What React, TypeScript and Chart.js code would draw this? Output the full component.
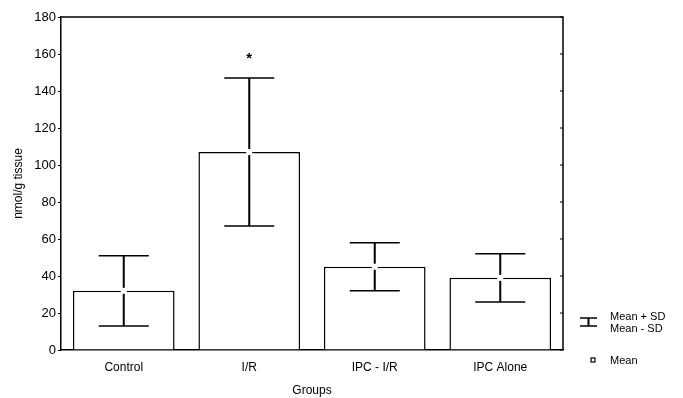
import React, { useEffect, useRef } from "react";
import { Chart, registerables } from "chart.js";

Chart.register(...registerables);

const categories = ["Control", "I/R", "IPC - I/R", "IPC Alone"];
const means = [32, 107, 45, 39];
const sds = [19, 40, 13, 13];
const significance = ["", "*", "", ""];
const starValues = [0, 159, 0, 0];
const yTicks = [0, 20, 40, 60, 80, 100, 120, 140, 160, 180];

const FONT = "'Liberation Sans', Arial, sans-serif";

const errorBarPlugin = {
  id: "errorBars",
  afterDatasetsDraw(chart: any) {
    const { ctx, scales } = chart;
    const meta = chart.getDatasetMeta(0);
    const y = scales.y;
    ctx.save();
    meta.data.forEach((el: any, i: number) => {
      const x = el.x;
      const yt = y.getPixelForValue(means[i] + sds[i]);
      const yb = y.getPixelForValue(means[i] - sds[i]);
      const ym = y.getPixelForValue(means[i]);
      ctx.strokeStyle = "#000";
      ctx.lineWidth = 2;
      ctx.beginPath();
      ctx.moveTo(x, yt);
      ctx.lineTo(x, yb);
      ctx.stroke();
      ctx.lineWidth = 1.5;
      ctx.beginPath();
      ctx.moveTo(x - 25, yt);
      ctx.lineTo(x + 25, yt);
      ctx.moveTo(x - 25, yb);
      ctx.lineTo(x + 25, yb);
      ctx.stroke();
      ctx.fillStyle = "#fff";
      ctx.fillRect(x - 3, ym - 3, 6, 6);
      if (significance[i]) {
        ctx.fillStyle = "#000";
        ctx.font = `bold 15px ${FONT}`;
        ctx.textAlign = "center";
        ctx.textBaseline = "middle";
        ctx.fillText(significance[i], x, y.getPixelForValue(starValues[i]) + 3);
      }
    });
    ctx.restore();
  },
};

const framePlugin = {
  id: "frame",
  afterDraw(chart: any) {
    const { ctx, chartArea: a, scales } = chart;
    ctx.save();
    ctx.strokeStyle = "#000";
    ctx.lineWidth = 1.5;
    ctx.beginPath();
    ctx.moveTo(a.left, a.top);
    ctx.lineTo(a.right, a.top);
    ctx.lineTo(a.right, a.bottom);
    ctx.stroke();
    ctx.lineWidth = 1;
    ctx.beginPath();
    yTicks.forEach((v) => {
      const py = scales.y.getPixelForValue(v);
      ctx.moveTo(a.right, py);
      ctx.lineTo(a.right - 3, py);
    });
    ctx.stroke();

    // legend
    const lx = a.right + 17;
    ctx.lineWidth = 1.5;
    ctx.beginPath();
    ctx.moveTo(lx, 318);
    ctx.lineTo(lx + 17, 318);
    ctx.moveTo(lx, 326);
    ctx.lineTo(lx + 17, 326);
    ctx.stroke();
    ctx.lineWidth = 2;
    ctx.beginPath();
    ctx.moveTo(lx + 8.5, 318);
    ctx.lineTo(lx + 8.5, 326);
    ctx.stroke();
    ctx.lineWidth = 1.2;
    ctx.strokeRect(lx + 11, 358, 4, 4);
    ctx.fillStyle = "#000";
    ctx.font = `11px ${FONT}`;
    ctx.textAlign = "left";
    ctx.textBaseline = "middle";
    ctx.fillText("Mean + SD", a.right + 47, 317);
    ctx.fillText("Mean - SD", a.right + 47, 329);
    ctx.fillText("Mean", a.right + 47, 361);
    ctx.restore();
  },
};

export default function App() {
  const ref = useRef<HTMLCanvasElement>(null);
  useEffect(() => {
    if (!ref.current) return;
    const chart = new Chart(ref.current, {
      type: "bar",
      data: {
        labels: categories,
        datasets: [
          {
            label: "Mean",
            data: means,
            backgroundColor: "#fff",
            borderColor: "#000",
            borderWidth: 1.5,
            barPercentage: 0.81,
            categoryPercentage: 1,
          },
        ],
      },
      options: {
        responsive: false,
        animation: false,
        layout: { padding: { top: 17, right: 120, left: 0, bottom: 0 } },
        plugins: { legend: { display: false }, tooltip: { enabled: false } },
        scales: {
          x: {
            afterFit(scale: any) {
              scale.height = 48;
            },
            grid: { display: false, drawTicks: false },
            border: { display: true, color: "#000", width: 1.5 },
            ticks: { color: "#000", font: { family: FONT, size: 12 }, padding: 10 },
            title: {
              display: true,
              text: "Groups",
              color: "#000",
              font: { family: FONT, size: 12 },
              padding: { top: 0, bottom: 0 },
            },
          },
          y: {
            min: 0,
            max: 180,
            afterFit(scale: any) {
              scale.width = 61;
            },
            afterBuildTicks(scale: any) {
              scale.ticks = yTicks.map((v) => ({ value: v }));
            },
            grid: { drawOnChartArea: false, drawTicks: true, tickLength: 3, color: "#000" },
            border: { display: true, color: "#000", width: 1.5 },
            ticks: { color: "#000", font: { family: FONT, size: 13 }, padding: 2 },
            title: {
              display: true,
              text: "nmol/g tissue",
              color: "#000",
              font: { family: FONT, size: 12 },
              padding: { top: 11, bottom: 0 },
            },
          },
        },
      },
      plugins: [errorBarPlugin, framePlugin],
    });
    return () => chart.destroy();
  }, []);
  return (
    <div style={{ position: "fixed", left: 0, top: 0, width: 683, height: 398, background: "#fff" }}>
      <canvas ref={ref} width={683} height={398} />
    </div>
  );
}
